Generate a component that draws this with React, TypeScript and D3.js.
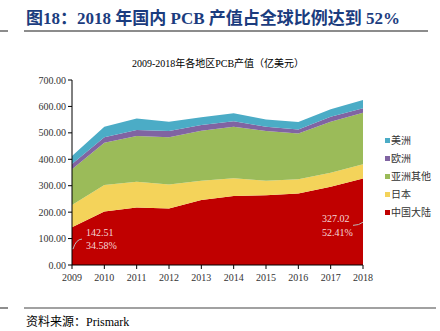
import React from "react";
import * as d3 from "d3";

const years = [2009, 2010, 2011, 2012, 2013, 2014, 2015, 2016, 2017, 2018];
const china = [142.51, 202, 218, 214, 246, 261, 264, 271, 296, 327.02];
const japan = [84.5, 101, 97, 91, 73, 67, 55, 53, 53, 54];
const asiaOther = [135, 160, 173, 178, 189, 195, 188, 174, 193, 195];
const europe = [20, 20, 23, 24, 22, 21, 16, 15, 19, 17];
const americas = [30.1, 40, 43, 35, 29, 30, 28, 28, 28, 31];
const seriesNames = ["中国大陆", "日本", "亚洲其他", "欧洲", "美洲"];
const seriesColors = ["#C00000", "#F4D35A", "#9BBB59", "#8064A2", "#4BACC6"];
const yTicks = [0, 100, 200, 300, 400, 500, 600, 700];

const FONT = "'Times New Roman','Liberation Serif','Noto Sans CJK SC',serif";

export default function App() {
  const W = 440, H = 331;
  const x = d3.scaleLinear().domain([2009, 2018]).range([72, 363]);
  const y = d3.scaleLinear().domain([0, 700]).range([265, 80]);
  const rows = years.map((yr, i) => ({
    year: yr,
    s0: china[i], s1: japan[i], s2: asiaOther[i], s3: europe[i], s4: americas[i],
  }));
  const stack = d3.stack<any>().keys(["s0", "s1", "s2", "s3", "s4"]);
  const layers = stack(rows);
  const area = d3
    .area<any>()
    .x((d) => x(d.data.year))
    .y0((d) => y(d[0]))
    .y1((d) => y(d[1]));

  const legendOrder = [4, 3, 2, 1, 0];
  const total0 = china[0] + japan[0] + asiaOther[0] + europe[0] + americas[0];
  const n = years.length - 1;

  return (
    <svg width={W} height={H} style={{ position: "absolute", left: 0, top: 0, background: "#fff" }}>
      {/* Header */}
      <text x={26} y={24} fontFamily={FONT} fontWeight="bold" fontSize={17} fill="#1B3C7E">
        图18：2018 年国内 PCB 产值占全球比例达到 52%
      </text>
      <line x1={24} x2={428} y1={31} y2={31} stroke="#8c8c8c" strokeWidth={2} />
      <line x1={0} x2={8} y1={31} y2={31} stroke="#8c8c8c" strokeWidth={2} />

      <text x={218} y={67} textAnchor="middle" fontFamily={FONT} fontSize={10} fill="#000">
        2009-2018年各地区PCB产值（亿美元）
      </text>

      {/* Areas */}
      {layers.map((layer, i) => (
        <path key={i} d={area(layer) || ""} fill={seriesColors[i]} />
      ))}

      {/* Y axis */}
      <line x1={72} x2={72} y1={y(700)} y2={y(0)} stroke="#000" strokeWidth={1} />
      {yTicks.map((t) => (
        <g key={t}>
          <line x1={68} x2={72} y1={y(t)} y2={y(t)} stroke="#000" />
          <text x={66} y={y(t) + 3.5} textAnchor="end" fontFamily={FONT} fontSize={10} fill="#333">
            {t.toFixed(2)}
          </text>
        </g>
      ))}
      {/* X axis */}
      <line x1={72} x2={363} y1={y(0)} y2={y(0)} stroke="#000" />
      {years.map((yr) => (
        <g key={yr}>
          <line x1={x(yr)} x2={x(yr)} y1={y(0)} y2={y(0) + 4} stroke="#000" />
          <text x={x(yr)} y={281} textAnchor="middle" fontFamily={FONT} fontSize={10} fill="#333">
            {yr}
          </text>
        </g>
      ))}

      {/* Annotations */}
      <path d={`M${x(2009) + 1},${y(60)} Q${x(2009) + 4},${y(98)} ${x(2009) + 10},${y(98)}`} fill="none" stroke="#bbb" strokeWidth={1} />
      <text x={86} y={236} fontFamily={FONT} fontSize={10} fill="#F4D7D7">
        {china[0].toFixed(2)}
      </text>
      <text x={86} y={249} fontFamily={FONT} fontSize={10} fill="#F4D7D7">
        {((china[0] / total0) * 100).toFixed(2)}%
      </text>
      <path d={`M${x(2018) - 10},${y(150)} Q${x(2018) - 4},${y(150)} ${x(2018)},${y(162)}`} fill="none" stroke="#bbb" strokeWidth={1} />
      <text x={322} y={222} fontFamily={FONT} fontSize={10} fill="#F4D7D7">
        {china[n].toFixed(2)}
      </text>
      <text x={322} y={236} fontFamily={FONT} fontSize={10} fill="#F4D7D7">
        52.41%
      </text>

      {/* Legend */}
      {legendOrder.map((si, k) => (
        <g key={si}>
          <rect x={385} y={138 + k * 18} width={5} height={5} fill={seriesColors[si]} />
          <text x={391} y={144 + k * 18} fontFamily={FONT} fontSize={10} fill="#333">
            {seriesNames[si]}
          </text>
        </g>
      ))}

      {/* Footer */}
      <line x1={24} x2={436} y1={308} y2={308} stroke="#444" strokeWidth={1.2} />
      <line x1={0} x2={8} y1={308} y2={308} stroke="#444" strokeWidth={1.2} />
      <text x={26} y={326} fontFamily={FONT} fontSize={12} fill="#000">
        资料来源：Prismark
      </text>
    </svg>
  );
}
